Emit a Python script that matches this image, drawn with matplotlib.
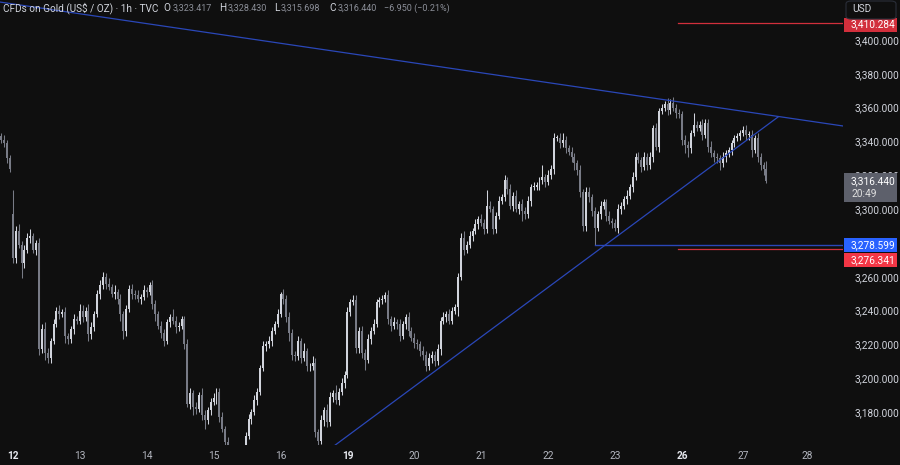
import matplotlib
matplotlib.use("Agg")
import matplotlib.pyplot as plt
from matplotlib.patches import Rectangle, FancyBboxPatch
import numpy as np

plt.rcParams['font.family'] = ['Roboto', 'DejaVu Sans']

# ---------------- data ----------------
closes = [
    3341, 3339, 3330, 3324, 3271, 3287, 3279, 3268, 3276, 3283, 3284, 3276,
    3280, 3217, 3229, 3215, 3212, 3222, 3232, 3240, 3238, 3239, 3225, 3223,
    3229, 3235, 3234, 3240, 3236, 3240, 3226, 3230, 3238, 3250, 3255, 3260,
    3256, 3254, 3250, 3251, 3247, 3238, 3228, 3241, 3253, 3250, 3249, 3247,
    3248, 3252, 3251, 3255, 3244, 3238, 3231, 3227, 3222, 3233, 3236, 3234,
    3230, 3231, 3235, 3220, 3185, 3191, 3183, 3182, 3190, 3178, 3175, 3181,
    3186, 3188, 3192, 3177, 3170, 3162, 3150, 3138, 3128, 3122, 3135, 3148,
    3166, 3176, 3180, 3187, 3192, 3206, 3219, 3220, 3222, 3228, 3232, 3238,
    3250, 3247, 3236, 3227, 3214, 3213, 3222, 3212, 3216, 3207, 3207, 3209,
    3168, 3163, 3175, 3181, 3174, 3189, 3191, 3187, 3192, 3197, 3202, 3239,
    3245, 3246, 3218, 3228, 3215, 3211, 3223, 3228, 3232, 3245, 3246, 3247,
    3249, 3235, 3231, 3233, 3232, 3225, 3232, 3236, 3228, 3224, 3221, 3220,
    3216, 3214, 3207, 3212, 3214, 3210, 3217, 3234, 3236, 3238, 3234, 3240,
    3242, 3260, 3283, 3276, 3279, 3284, 3287, 3291, 3294, 3292, 3288, 3302,
    3300, 3288, 3296, 3305, 3307, 3317, 3312, 3302, 3308, 3300, 3303, 3299,
    3297, 3305, 3313, 3313, 3314, 3317, 3319, 3316, 3320, 3324, 3342, 3342,
    3339, 3341, 3336, 3334, 3331, 3327, 3323, 3310, 3290, 3310, 3307, 3299,
    3289, 3297, 3302, 3304, 3296, 3293, 3292, 3289, 3300, 3302, 3306, 3308,
    3313, 3319, 3331, 3329, 3325, 3331, 3326, 3331, 3348, 3337, 3358, 3360,
    3362, 3358.5, 3363, 3360, 3357, 3356, 3341, 3338, 3336, 3345, 3350, 3348,
    3350, 3344, 3351, 3337, 3333, 3331, 3330, 3327, 3331, 3333, 3335, 3339,
    3342, 3343, 3345, 3347, 3344, 3344, 3335, 3342, 3331, 3326, 3323.417, 3316.44,
]
first_open = 3343.0
gap_opens = {4: 3297.0}

wick_hi = [
    2, 3, 2, 2, 14, 3, 4, 2, 3, 3, 4, 2,
    2, 3, 3, 4, 3, 2, 3, 2, 3, 2, 3, 2,
    2, 3, 2, 4, 3, 2, 4, 3, 2, 2, 3, 3,
    2, 3, 2, 4, 2, 3, 2, 2, 2, 3, 2, 3,
    2, 3, 2, 2, 3, 2, 2, 3, 2, 2, 2, 5,
    3, 2, 2, 2, 3, 3, 2, 3, 2, 4, 3, 2,
    2, 3, 2, 2, 3, 2, 3, 4, 3, 4, 3, 3,
    2, 3, 2, 3, 2, 2, 3, 2, 3, 2, 2, 3,
    1, 3, 2, 3, 2, 2, 3, 2, 5, 2, 2, 4,
    3, 2, 3, 2, 4, 3, 2, 5, 2, 3, 2, 3,
    2, 3, 3, 2, 3, 2, 3, 2, 3, 2, 2, 2,
    2, 3, 2, 3, 2, 3, 2, 2, 3, 2, 3, 2,
    2, 3, 2, 3, 2, 2, 3, 2, 3, 2, 3, 2,
    2, 2, 3, 4, 2, 3, 2, 3, 2, 3, 2, 9,
    3, 2, 2, 3, 2, 3, 2, 3, 2, 3, 2, 3,
    2, 3, 2, 3, 2, 2, 7, 2, 3, 2, 3, 2,
    3, 4, 2, 2, 3, 2, 2, 3, 2, 3, 3, 2,
    2, 2, 3, 2, 2, 3, 2, 2, 3, 2, 2, 3,
    2, 3, 2, 3, 2, 3, 2, 3, 2, 3, 2, 2,
    2, 3.7, 2, 3, 2, 2, 2, 3, 2, 2, 7, 2,
    2, 3, 2, 2, 3, 2, 2, 2, 3, 2, 2, 2,
    2, 2, 2, 2, 3, 2, 3, 2, 3, 2, 2, 5.01,
]
wick_lo = [
    2, 2, 3, 2, 3, 3, 2, 9, 3, 2, 3, 2,
    3, 3, 2, 4, 3, 3, 2, 2, 3, 2, 4, 3,
    2, 3, 2, 2, 3, 2, 4, 3, 2, 2, 3, 2,
    3, 2, 2, 3, 3, 4, 5, 3, 2, 3, 2, 2,
    3, 2, 3, 2, 3, 4, 2, 3, 3, 2, 3, 2,
    3, 2, 2, 3, 2, 3, 5, 3, 2, 3, 5, 2,
    3, 2, 3, 3, 2, 3, 4, 3, 4, 3, 3, 2,
    3, 2, 3, 2, 3, 2, 2, 3, 2, 3, 2, 2,
    2, 3, 3, 5, 3, 3, 2, 3, 2, 3, 3, 2,
    3, 4, 2, 3, 3, 2, 3, 2, 3, 2, 3, 2,
    2, 2, 3, 3, 3, 6, 2, 3, 2, 2, 3, 2,
    2, 3, 3, 2, 3, 3, 2, 3, 3, 2, 3, 3,
    3, 3, 3, 2, 3, 3, 2, 3, 2, 3, 2, 2,
    2, 5, 2, 3, 2, 2, 3, 2, 3, 2, 3, 2,
    2, 3, 2, 2, 2, 2, 3, 2, 3, 2, 3, 6,
    3, 2, 3, 2, 2, 3, 2, 3, 2, 2, 3, 2,
    3, 2, 3, 2, 3, 4, 3, 3, 3, 3, 3, 3,
    10.4, 2, 3, 2, 3, 2, 3, 2, 3, 3, 2, 3,
    2, 3, 2, 2, 3, 2, 3, 2, 3, 2, 3, 2,
    2, 3, 2, 2, 3, 2, 3, 5, 5, 3, 2, 2,
    2, 3, 2, 3, 2, 3, 3, 4, 2, 3, 2, 3,
    2, 2, 2, 2, 3, 3, 4, 2, 3, 3, 3, 0.742,
]

day_tick_pos = [4, 27, 50, 73, 96, 119, 142, 165, 188, 211, 234, 255, 277]
day_labels = ["12", "13", "14", "15", "16", "19", "20", "21", "22", "23", "26", "27", "28"]
bold_days = {"12", "19", "26"}

price_ticks = list(range(3180, 3401, 20))
hidden_price_ticks = {3280}      # fully covered by the blue label in the reference
partly_hidden_tick = 3320        # only its top shows above the last-price box

# drawings (bar index, price)
desc_line = [(188.7, 3374.6), (288.3, 3349.4)]
asc_line = [(100.0, 3141.6), (267.0, 3354.5)]
support_blue = 3278.599
support_blue_start = 204
red_high = 3410.284
red_low = 3276.341
red_start = 232.6

last_price = 3316.44
countdown = "20:49"

header_title = "CFDs on Gold (US$ / OZ) · 1h · TVC"
ohlc_letters = ["O", "H", "L", "C"]
ohlc_values = ["3,323.417", "3,328.430", "3,315.698", "3,316.440"]
change_text = "\u22126.950 (\u22120.21%)"

# ---------------- figure ----------------
BG = "#0f0f0f"
UP = "#d1d4dc"
DOWN = "#787b86"
BLUE = "#2a47b8"
RED = "#d22f3c"
TXT = "#d1d4dc"
FS = 7.3

W, H = 900, 465
fig = plt.figure(figsize=(W / 100, H / 100), dpi=100, facecolor=BG)


def fx(px):
    return px / W


def fy(py):
    return 1 - py / H


ax = fig.add_axes([0, fy(445), 843 / W, 445 / H], facecolor=BG)

n = len(closes)
opens = []
for i in range(n):
    if i == 0:
        opens.append(first_open)
    elif i in gap_opens:
        opens.append(gap_opens[i])
    else:
        opens.append(closes[i - 1])
opens = np.array(opens, dtype=float)
closes_a = np.array(closes, dtype=float)
highs = np.maximum(opens, closes_a) + np.array(wick_hi, dtype=float)
lows = np.minimum(opens, closes_a) - np.array(wick_lo, dtype=float)
xs = np.arange(n)
up = closes_a >= opens
cols = np.where(up, UP, DOWN)

ax.vlines(xs, lows, highs, colors=cols, linewidth=0.75, zorder=2)
body_bottom = np.minimum(opens, closes_a)
body_h = np.maximum(np.abs(closes_a - opens), 0.5)
ax.bar(xs, body_h, bottom=body_bottom, width=0.68, color=cols, linewidth=0, zorder=3)

# drawings
ax.axline(desc_line[0], desc_line[1], color=BLUE, lw=0.9, zorder=4)
ax.plot([asc_line[0][0], asc_line[1][0]], [asc_line[0][1], asc_line[1][1]], color=BLUE, lw=0.9, zorder=4)
xr = 289.3
ax.plot([support_blue_start, xr], [support_blue, support_blue], color=BLUE, lw=1.0, zorder=4)
ax.plot([red_start, xr], [red_low, red_low], color=RED, lw=0.9, zorder=4)
ax.plot([red_start, xr], [red_high, red_high], color=RED, lw=0.9, zorder=4)

ax.set_xlim(-0.4, xr)
ax.set_ylim(3160.5, 3423.65)

for s in ax.spines.values():
    s.set_visible(False)

ax.set_yticks(price_ticks)
ax.set_yticklabels(["" if p in hidden_price_ticks else f"{p:,.3f}" for p in price_ticks])
ax.tick_params(axis="y", left=False, right=False, labelleft=False, labelright=True,
               length=0, pad=8, labelsize=FS, labelcolor=TXT)
ax.set_xticks(day_tick_pos)
ax.set_xticklabels(day_labels)
ax.tick_params(axis="x", length=0, pad=4, labelsize=FS, labelcolor="#b2b5be")
for lbl in ax.get_xticklabels():
    if lbl.get_text() in bold_days:
        lbl.set_fontweight("bold")
        lbl.set_color("#e6e8ee")
ax.grid(False)

# ---------------- right-side labels ----------------
fig.canvas.draw()


def price_to_py(p):
    disp = ax.transData.transform((0, p))
    return H - disp[1]


def label_box(py_center, text, color, height=14):
    top = py_center - height / 2
    r = Rectangle((fx(844), fy(top + height)), (897 - 844) / W, height / H,
                  transform=fig.transFigure, facecolor=color, edgecolor="none", zorder=5)
    fig.patches.append(r)
    fig.text(fx(851), fy(py_center), text, color="white", fontsize=FS,
             va="center", ha="left", zorder=6)


# red top label (partly under USD box)
label_box(price_to_py(red_high) + 2, f"{red_high:,.3f}", RED)

# USD box
usd = FancyBboxPatch((fx(846), fy(19)), (896 - 846) / W, 18 / H,
                     boxstyle="round,pad=0,rounding_size=0.006",
                     transform=fig.transFigure, facecolor=BG, edgecolor="#2a2e39",
                     linewidth=0.8, zorder=7)
fig.patches.append(usd)
fig.text(fx(852), fy(9.5), "USD", color=TXT, fontsize=FS, va="center", ha="left", zorder=8)

# last price gray box (two lines)
py_last = price_to_py(last_price)
top = py_last - 8
gr = Rectangle((fx(844), fy(top + 29)), (897 - 844) / W, 29 / H,
               transform=fig.transFigure, facecolor="#5d606b", edgecolor="none", zorder=5)
fig.patches.append(gr)
fig.text(fx(851), fy(top + 7.5), f"{last_price:,.3f}", color="white", fontsize=FS,
         va="center", ha="left", zorder=6)
fig.text(fx(851), fy(top + 21), countdown, color="#e0e0e0", fontsize=FS,
         va="center", ha="left", zorder=6)

# clip the partly hidden tick label so only the part above the gray box shows
clip_rect = Rectangle((fx(843), fy(top)), (900 - 843) / W, (top - 0) / H,
                      transform=fig.transFigure, facecolor="none", edgecolor="none")
fig.patches.append(clip_rect)
for tl, p in zip(ax.get_yticklabels(), price_ticks):
    if p == partly_hidden_tick:
        tl.set_clip_path(clip_rect)

# blue and red support labels
py_blue = price_to_py(support_blue)
label_box(py_blue, f"{support_blue:,.3f}", "#2962ff")
label_box(py_blue + 15, f"{red_low:,.3f}", "#f23645")

# ---------------- header ----------------
hy = fy(8)
HFS = 6.5
GRAY = "#8c8f99"
fig.text(fx(3), hy, header_title, color=TXT, fontsize=7.2, va="center", ha="left")
letter_x = [163, 219, 274, 329]
value_x = [176, 231, 284, 341]
for lx, vx, l, v in zip(letter_x, value_x, ohlc_letters, ohlc_values):
    fig.text(fx(lx), hy, l, color=TXT, fontsize=7.2, va="center", ha="left")
    fig.text(fx(vx - 3), hy, v, color=GRAY, fontsize=HFS, va="center", ha="left")
fig.text(fx(384), hy, change_text, color=GRAY, fontsize=HFS, va="center", ha="left")

fig.savefig("out.png", dpi=100, facecolor=BG)
